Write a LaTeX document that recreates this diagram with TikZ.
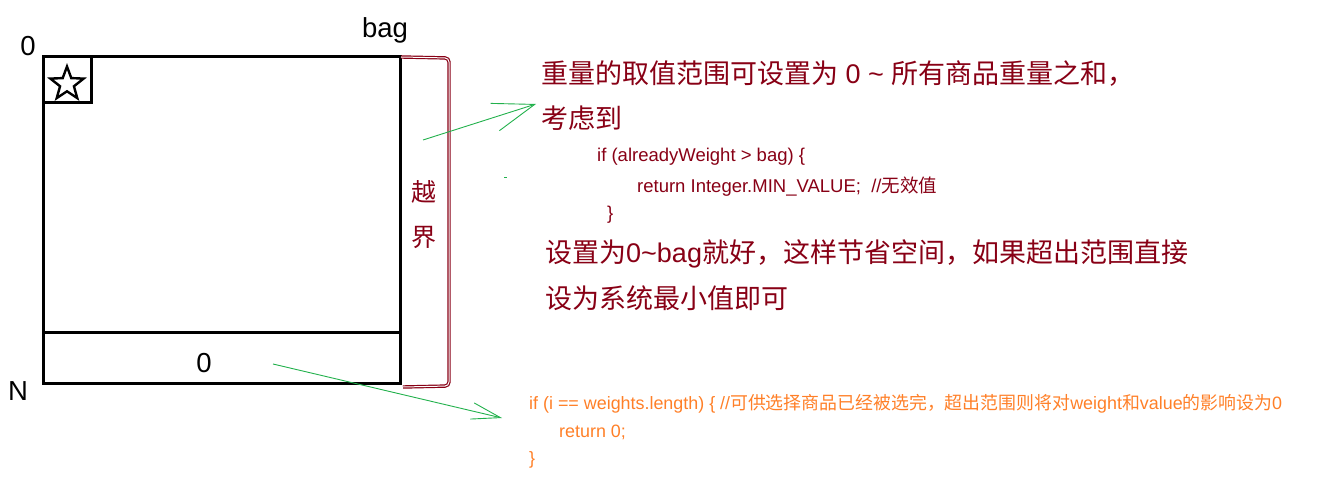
\documentclass[tikz,border=0pt]{standalone}
\usepackage{fontspec}
\setmainfont{Liberation Sans}
\newfontfamily\cjk{Noto Sans CJK SC}
\usepackage{xcolor}
\usepackage{tikz}
\usetikzlibrary{arrows.meta,shapes.geometric}

\definecolor{wine}{RGB}{136,0,21}
\definecolor{pengreen}{RGB}{34,177,76}
\definecolor{codeorange}{RGB}{255,127,39}
\newcommand{\zh}[1]{{\cjk #1}}

\tikzset{
  axislabel/.style={inner sep=0pt,font=\fontsize{27.5}{30}\selectfont},
  note/.style={anchor=west,inner sep=0pt,text=wine,font=\fontsize{27}{30}\selectfont},
  sidenote/.style={inner sep=0pt,text=wine,font=\fontsize{25}{30}\selectfont},
  code/.style={anchor=west,inner sep=0pt,text=wine,font=\fontsize{18.5}{20}\selectfont},
  leafcode/.style={anchor=west,inner sep=0pt,text=codeorange,font=\fontsize{17.9}{20}\selectfont},
  pen/.style={pengreen,line width=0.9pt},
}

\begin{document}
\begin{tikzpicture}[>=Latex,x=1pt,y=-1pt]
\useasboundingbox (0,0) rectangle (1318,478);

% the dp table
\draw[line width=3pt] (43,57) rectangle (400,384);
\draw[line width=3pt] (43,333) -- (400,333);
\draw[line width=3pt] (43,57) rectangle (91,103);
\node[star,star points=5,star point ratio=2.4,draw,line width=2.4pt,
  minimum size=35pt,inner sep=0pt] (start) at (67,84) {};

\node[axislabel] (rowZero) at (28,46) {0};
\node[axislabel] (bag) at (385,30) {bag};
\node[axislabel] (rowN) at (18,391) {N};
\node[axislabel] (baseZero) at (204,363) {0};

% out of range
\draw[wine,double=white,double distance=1pt,line width=1.2pt,rounded corners=4pt]
  (401,57) -- (449,58) -- (449,386) -- (403,387);
\node[sidenote] (outA) at (424,192) {\zh{越}};
\node[sidenote] (outB) at (424,237) {\zh{界}};

% notes
\node[note] (rangeLine) at (541,74) {\zh{重量的取值范围可设置为} 0 \textasciitilde{} \zh{所有商品重量之和，}};
\node[note] (considerLine) at (541,118) {\zh{考虑到}};
\node[code] (codeIf) at (597,157) {if (alreadyWeight > bag) \{};
\node[code] (codeReturn) at (637,187) {return Integer.MIN\_VALUE;\ \ //\zh{无效值}};
\node[code] (codeClose) at (607,215) {\}};
\node[note] (tipLine) at (545,254) {\zh{设置为}0\textasciitilde bag\zh{就好，这样节省空间，如果超出范围直接}};
\node[note] (tipLineB) at (545,298) {\zh{设为系统最小值即可}};

\node[leafcode] (leafIf) at (529,404) {if (i == weights.length) \{ //\zh{可供选择商品已经被选完，超出范围则将对}weight\zh{和}value\zh{的影响设为}0};
\node[leafcode] (leafReturn) at (559,432) {return 0;};
\node[leafcode] (leafClose) at (529,460) {\}};

% arrows
\coordinate (fromBound) at (423,140);
\coordinate (toRange) at (536,104);
\draw[pen,-{Straight Barb[angle=38:44pt]}] (fromBound) -- (toRange);
\coordinate (fromBase) at (273,364);
\coordinate (toLeaf) at (502,418);
\draw[pen,-{Straight Barb[angle=32:30pt]}] (fromBase) -- (toLeaf);
\draw[pen] (504,177) -- (507,177);
\end{tikzpicture}
\end{document}
